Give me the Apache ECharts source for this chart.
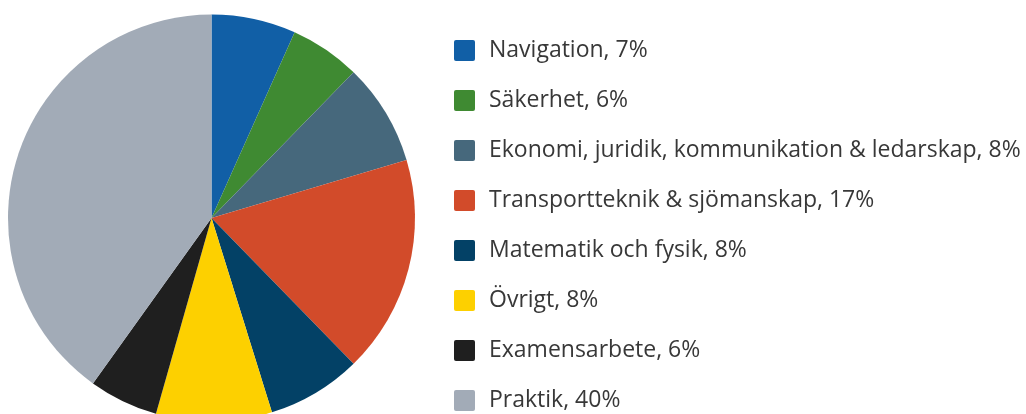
<!DOCTYPE html>
<html>
<head>
<meta charset="utf-8">
<script src="https://cdn.jsdelivr.net/npm/echarts@6/dist/echarts.min.js"></script>
<style>
  html, body { margin: 0; padding: 0; background: #ffffff; }
  #chart { width: 1026px; height: 414px; }
</style>
</head>
<body>
<div id="chart"></div>
<script>
const categories = [
  "Navigation, 7%",
  "Säkerhet, 6%",
  "Ekonomi, juridik, kommunikation & ledarskap, 8%",
  "Transportteknik & sjömanskap, 17%",
  "Matematik och fysik, 8%",
  "Övrigt, 8%",
  "Examensarbete, 6%",
  "Praktik, 40%"
];
const values = [6.7, 5.6, 8.1, 17.3, 7.5, 9.2, 5.5, 40.1];
const colors = ["#115fa6", "#3f8a32", "#46687c", "#d24b2a", "#034166", "#fdd000", "#1f1f1f", "#a2abb7"];

const chart = echarts.init(document.getElementById('chart'), null, { renderer: 'canvas' });
chart.setOption({
  animation: false,
  color: colors,
  legend: {
    orient: 'vertical',
    left: 449,
    top: 34,
    height: 440,
    itemWidth: 21,
    itemHeight: 21,
    itemGap: 27,
    icon: 'path://M2,0 L19,0 Q21,0 21,2 L21,19 Q21,21 19,21 L2,21 Q0,21 0,19 L0,2 Q0,0 2,0 Z',
    data: categories,
    textStyle: {
      fontFamily: 'Open Sans',
      fontSize: 23,
      color: '#383838',
      padding: [0, 0, 0, 9]
    }
  },
  series: [{
    type: 'pie',
    center: [211.5, 218],
    radius: 203.5,
    startAngle: 90,
    clockwise: true,
    label: { show: false },
    labelLine: { show: false },
    itemStyle: { borderWidth: 0 },
    emphasis: { disabled: true },
    data: categories.map((c, i) => ({ name: c, value: values[i] }))
  }]
});
</script>
</body>
</html>
